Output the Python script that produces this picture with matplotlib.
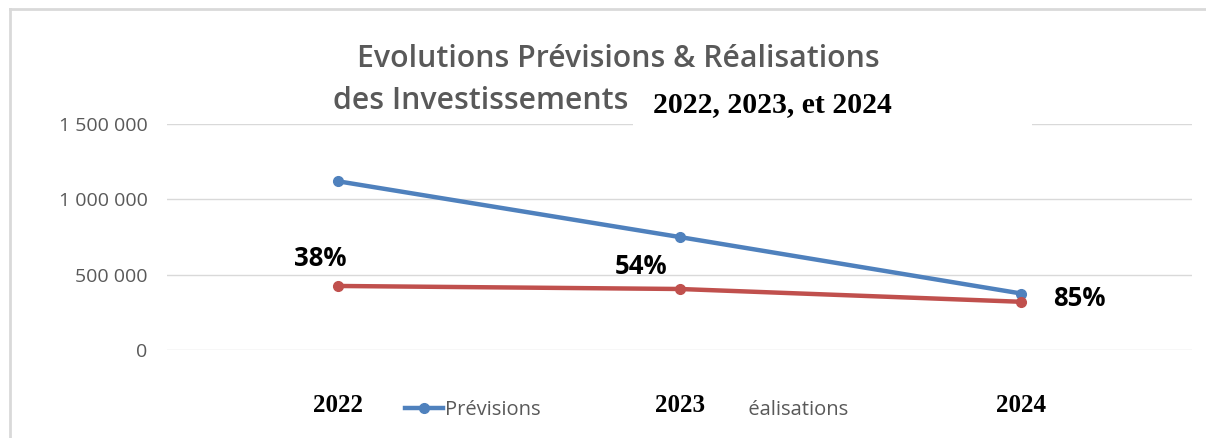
import matplotlib.pyplot as plt
from matplotlib.lines import Line2D
from matplotlib.patches import Rectangle

annees = ['2022', '2023', '2024']
previsions = [1120000, 750000, 375000]
realisations = [425000, 405000, 320000]
y_ticks = [0, 500000, 1000000, 1500000]
y_labels = ['0', '500 000', '1 000 000', '1 500 000']

bleu = '#4F81BD'
rouge = '#C0504D'
gris = '#595959'

fig = plt.figure(figsize=(12.06, 4.38), dpi=100)
ax = fig.add_axes([0.1385, 0.2009, 0.8499, 0.516])
# les axes passent au-dessus de la légende (pour le cache blanc sous "2023")
ax.set_zorder(7)
ax.patch.set_visible(False)

x = list(range(len(annees)))
l1, = ax.plot(x, previsions, color=bleu, lw=3.2, marker='o', ms=7, label='Prévisions', zorder=3)
l2, = ax.plot(x, realisations, color=rouge, lw=3.2, marker='o', ms=7, label='Réalisations', zorder=3)

ax.set_xlim(-0.5, 2.5)
ax.set_ylim(0, 1500000)
ax.set_yticks(y_ticks)
ax.set_yticklabels(y_labels, color=gris, fontsize=14, family='Open Sans')
ax.tick_params(axis='y', length=0, pad=14)
ax.set_xticks(x)
ax.set_xticklabels(annees, fontsize=18, fontweight='bold', family='Liberation Serif')
ax.tick_params(axis='x', length=0, pad=32)
ax.grid(axis='y', color='#d9d9d9', lw=1)
ax.set_axisbelow(True)
for s in ax.spines.values():
    s.set_visible(False)

# taux de réalisation
decalages = [(-18, 27), (-38, 22), (58, 3)]
for i, (p, r) in enumerate(zip(previsions, realisations)):
    ax.annotate(f'{r / p:.0%}', (i, r), xytext=decalages[i], textcoords='offset pixels',
                ha='center', va='center', fontsize=18.5, fontweight='bold', family='Open Sans',
                color='black')

leg = fig.legend(handles=[l1, l2], loc='center left', bbox_to_anchor=(0.329, 0.064),
                 ncol=2, frameon=False, prop={'family': 'Open Sans', 'size': 14.5},
                 handlelength=1.9, handletextpad=0.1, columnspacing=7.7,
                 borderaxespad=0)
for t in leg.get_texts():
    t.set_color(gris)

# cache blanc sous le libellé 2023
fig.add_artist(Rectangle((0.537, 0.023), 0.0835, 0.082, transform=fig.transFigure,
                         facecolor='white', edgecolor='none', zorder=6))

# titre
fig.text(0.5126, 0.866, 'Evolutions Prévisions & Réalisations', ha='center', va='center',
         fontsize=21.8, color=gris, family='Open Sans', fontweight='semibold')
fig.text(0.276, 0.770, 'des Investissements', ha='left', va='center',
         fontsize=21.8, color=gris, family='Open Sans', fontweight='semibold')
fig.add_artist(Rectangle((0.525, 0.708), 0.331, 0.109, transform=fig.transFigure,
                         facecolor='white', edgecolor='none', zorder=8))
fig.text(0.5415, 0.762, '2022, 2023, et 2024', ha='left', va='center', fontsize=21.4,
         fontweight='bold', family='Liberation Serif', color='black', zorder=9)

fig.add_artist(Line2D([0.0083, 0.0083], [0, 0.979], color='#d9d9d9', lw=2))
fig.add_artist(Line2D([0.0083, 1], [0.979, 0.979], color='#d9d9d9', lw=2))

fig.savefig('out.png', dpi=100)
